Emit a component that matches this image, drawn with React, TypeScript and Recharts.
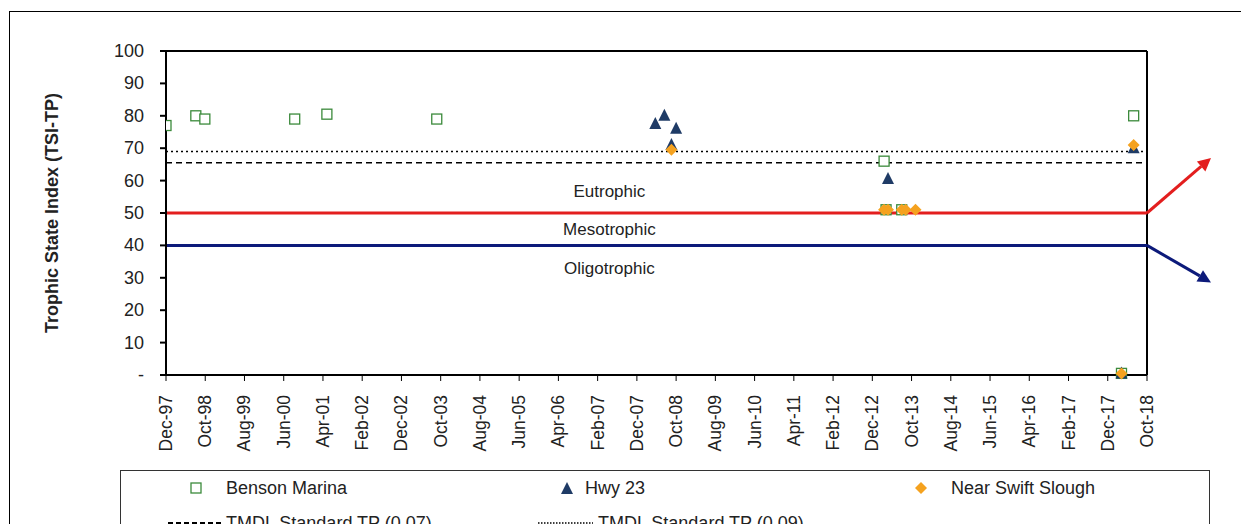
import React from "react";
import { ComposedChart, Scatter, XAxis, YAxis, ReferenceLine, ReferenceDot } from "recharts";

// x = months since Dec-97
const bensonX = [0, 7.6, 9.9, 32.8, 41, 69, 183, 246.6, 243.5];
const bensonY = [77, 80, 79, 79, 80.5, 79, 66, 80, 0.5];
const hwyX = [124.7, 127, 130, 128.8, 184, 246.6, 243.5];
const hwyY = [77.5, 80, 76, 71, 60.5, 70, 0.5];
const swiftX = [128.8, 183, 184, 187.5, 188.5, 191, 246.6, 243.5];
const swiftY = [69.5, 51, 51, 51, 51, 51, 71, 0.5];
const bensonX2 = [183.5, 187.5];
const bensonY2 = [51, 51];
const monthNames = ["Jan","Feb","Mar","Apr","May","Jun","Jul","Aug","Sep","Oct","Nov","Dec"];
const xTicks = Array.from({ length: 26 }, (_, i) => i * 10);
const yTicks = [0, 10, 20, 30, 40, 50, 60, 70, 80, 90, 100];

const toPts = (xs: number[], ys: number[]) => xs.map((x, i) => ({ x, y: ys[i] }));
const fmtMonth = (m: number) => {
  const t = 11 + m; // Dec = 11
  const mon = monthNames[t % 12];
  const yr = (1997 + Math.floor(t / 12)) % 100;
  return `${mon}-${String(yr).padStart(2, "0")}`;
};

const Square = (p: any) => <rect x={p.cx - 5} y={p.cy - 5} width={10} height={10} fill="white" stroke="#3b8a3b" strokeWidth={1.3} />;
const Tri = (p: any) => <polygon points={`${p.cx},${p.cy - 7} ${p.cx - 6},${p.cy + 5} ${p.cx + 6},${p.cy + 5}`} fill="#1f3b66" />;
const Diamond = (p: any) => <polygon points={`${p.cx},${p.cy - 6} ${p.cx + 6},${p.cy} ${p.cx},${p.cy + 6} ${p.cx - 6},${p.cy}`} fill="#f5a21f" />;

const XTick = (p: any) => (
  <text x={p.x} y={p.y + 12} transform={`rotate(-90 ${p.x} ${p.y + 12})`} textAnchor="end" dominantBaseline="central" fontSize={17.5} fill="#222">{fmtMonth(p.payload.value)}</text>
);

const YTick = (p: any) => (
  <text x={p.x - 14} y={p.y} textAnchor="end" dominantBaseline="central" fontSize={18} fill="#222">{p.payload.value === 0 ? "-" : p.payload.value}</text>
);

const Arrow = (color: string, dy: number) => (props: any) => {
  const vb = props.viewBox;
  const x0 = vb.x + vb.width, y0 = vb.y;
  const x1 = x0 + 64, y1 = y0 + dy;
  const ang = Math.atan2(y1 - y0, x1 - x0);
  const L = 13, W = 6.5;
  const bx = x1 - L * Math.cos(ang), by = y1 - L * Math.sin(ang);
  const px = -Math.sin(ang) * W, py = Math.cos(ang) * W;
  return (
    <g>
      <line x1={x0} y1={y0} x2={bx} y2={by} stroke={color} strokeWidth={3} />
      <polygon points={`${x1},${y1} ${bx + px},${by + py} ${bx - px},${by - py}`} fill={color} />
    </g>
  );
};

const zoneLabel = (text: string) => (props: any) => (
  <text x={props.viewBox.x} y={props.viewBox.y} textAnchor="middle" dominantBaseline="central" fontSize={17} fontFamily="Liberation Sans, Arial" fill="#222">{text}</text>
);

export default function App() {
  return (
    <div style={{ margin: -8, width: 1249, height: 532, position: "relative", background: "white", fontFamily: "Liberation Sans, Arial, sans-serif", overflow: "hidden" }}>
      <div style={{ position: "absolute", left: 9, top: 11, width: 1300, height: 600, border: "1.5px solid #000" }} />
      <ComposedChart width={1249} height={460} margin={{ top: 51, right: 102, left: 30, bottom: 0 }} style={{ position: "absolute", left: 0, top: 0 }}>
        <XAxis type="number" dataKey="x" domain={[0, 250]} ticks={xTicks} interval={0} tick={<XTick />} height={85} stroke="#000" strokeWidth={2} tickLine={{ stroke: "#000", strokeWidth: 1 }} allowDataOverflow />
        <YAxis type="number" dataKey="y" domain={[0, 100]} ticks={yTicks} interval={0} width={136} stroke="#000" strokeWidth={2}
          tick={<YTick />}
          label={{ value: "Trophic State Index (TSI-TP)", angle: -90, position: "insideLeft", offset: 0, dx: 22, style: { fontWeight: "bold", fontSize: 18, textAnchor: "middle", fill: "#222" } }} />
        <ReferenceLine y={100} stroke="#000" strokeWidth={2} />
        <ReferenceLine x={250} stroke="#000" strokeWidth={2} />
        <ReferenceLine y={69} stroke="#000" strokeWidth={1.5} strokeDasharray="2 3" />
        <ReferenceLine y={65.5} stroke="#000" strokeWidth={1.5} strokeDasharray="6 4" />
        <ReferenceLine y={50} stroke="#e31e1e" strokeWidth={3} label={Arrow("#e31e1e", -55)} />
        <ReferenceLine y={40} stroke="#0c1a7a" strokeWidth={3} label={Arrow("#0c1a7a", 37)} />
        <ReferenceDot x={113} y={56.5} r={0} label={zoneLabel("Eutrophic")} />
        <ReferenceDot x={113} y={45} r={0} label={zoneLabel("Mesotrophic")} />
        <ReferenceDot x={113} y={33} r={0} label={zoneLabel("Oligotrophic")} />
        <Scatter data={toPts(bensonX, bensonY)} shape={Square} isAnimationActive={false} />
        <Scatter data={toPts(hwyX, hwyY)} shape={Tri} isAnimationActive={false} />
        <Scatter data={toPts(bensonX2, bensonY2)} shape={Square} isAnimationActive={false} />
        <Scatter data={toPts(swiftX, swiftY)} shape={Diamond} isAnimationActive={false} />
      </ComposedChart>
      <div style={{ position: "absolute", left: 120, top: 470, width: 1088, height: 80, border: "1px solid #333" }}>
        <svg width={1088} height={80} style={{ position: "absolute", left: 0, top: 0 }}>
          <rect x={70} y={12} width={10} height={10} fill="white" stroke="#3b8a3b" strokeWidth={1.3} />
          <text x={105} y={17} dominantBaseline="central" fontSize={18} fill="#222">Benson Marina</text>
          <polygon points="446,11 440,23 452,23" fill="#1f3b66" />
          <text x={464} y={17} dominantBaseline="central" fontSize={18} fill="#222">Hwy 23</text>
          <polygon points="800,11 806,17 800,23 794,17" fill="#f5a21f" />
          <text x={830} y={17} dominantBaseline="central" fontSize={18} fill="#222">Near Swift Slough</text>
          <line x1={47} y1={52} x2={101} y2={52} stroke="#000" strokeWidth={2} strokeDasharray="5 3" />
          <text x={105} y={52} dominantBaseline="central" fontSize={18} fill="#222">TMDL Standard TP (0.07)</text>
          <line x1={417} y1={52} x2={472} y2={52} stroke="#000" strokeWidth={1.5} strokeDasharray="1.5 1.5" />
          <text x={477} y={52} dominantBaseline="central" fontSize={18} fill="#222">TMDL Standard TP (0.09)</text>
        </svg>
      </div>
    </div>
  );
}
